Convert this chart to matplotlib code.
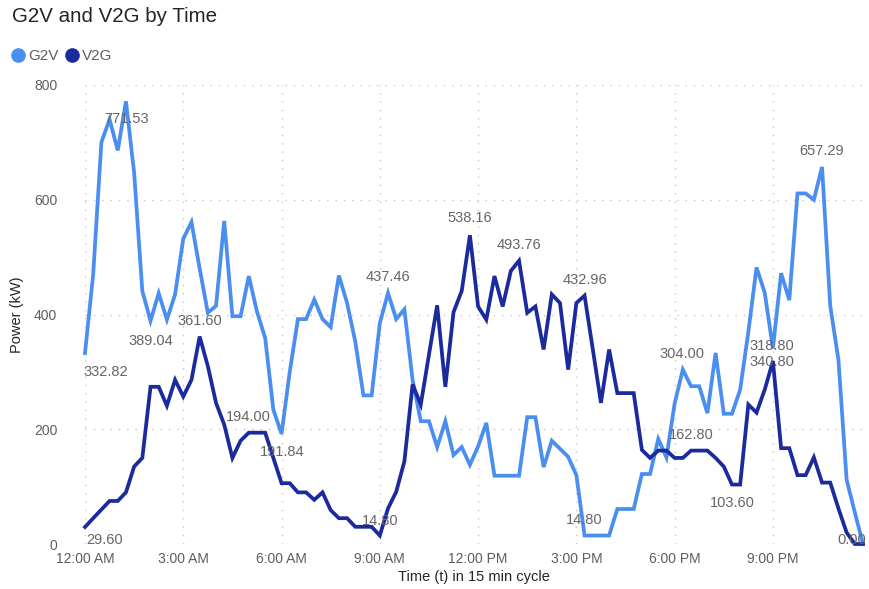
import numpy as np
import matplotlib
matplotlib.use("Agg")
import matplotlib.pyplot as plt
from matplotlib.lines import Line2D

plt.rcParams['font.family'] = ['Liberation Sans', 'DejaVu Sans']

# 96 readings, one every 15 minutes starting at midnight
g2v = [332.82, 470, 700, 740, 686, 771.53, 647, 441, 389.04, 437,
       391, 435, 532, 561, 480, 403, 415, 563, 397, 397,
       467, 405, 359, 234, 191.84, 300, 392, 392, 426, 392,
       378, 468, 420, 353, 259, 259, 385, 437.46, 392, 409,
       286, 214, 214, 169, 214, 155, 169, 138, 170, 211,
       119, 119, 119, 119, 221, 221, 134, 180, 166, 152,
       120, 14.80, 14.80, 14.80, 14.80, 61, 61, 61, 122, 122,
       183, 151, 245, 304.00, 275, 275, 228, 333, 227, 227,
       269, 370, 482, 438, 340.80, 472, 425, 611, 611, 600,
       657.29, 415, 321, 112, 55, 0.00]
v2g = [29.60, 45, 60, 75, 75, 90, 135, 150, 274, 274,
       241, 286, 257, 286, 361.60, 310, 246, 208, 150, 180,
       194.00, 194, 194, 150, 106, 106, 90, 90, 77, 90,
       59, 45, 45, 30, 30, 30, 14.80, 62, 91, 144,
       278, 243, 330, 416, 274, 404, 441, 538.16, 414, 391,
       467, 414, 476, 493.76, 403, 414, 339, 435, 420, 304,
       420, 432.96, 340, 246, 339, 263, 263, 263, 164, 150,
       162.80, 162.80, 150, 150, 162.80, 162.80, 162.80, 150, 135, 103.60,
       103.60, 243, 229, 269, 318.80, 167, 167, 120, 120, 151,
       107, 107, 62, 20, 0, 0.00]
hours = np.arange(len(g2v)) * 0.25

tick_hours = [0, 3, 6, 9, 12, 15, 18, 21]
tick_labels = ['12:00 AM', '3:00 AM', '6:00 AM', '9:00 AM',
               '12:00 PM', '3:00 PM', '6:00 PM', '9:00 PM']

# which points carry a data label, with the label offset in pixels
g2v_labels = [(0, 21, -19), (5, 1, -18), (8, 0, -20), (24, 1, -18),
              (37, 0, 16), (61, 0, 16), (73, -1, 16), (84, -1, -14),
              (90, 0, 16), (95, -11, 4)]
v2g_labels = [(0, 20, -13), (14, 0, 16), (20, 0, 16), (36, 0, 15),
              (47, 0, 17), (53, 0, 16), (61, 0, 16), (74, 0, 16),
              (79, 0, -18), (84, -1, 15)]

c_g2v = '#4A8EF0'
c_v2g = '#1B2A9C'
grey = '#605E5C'

fig = plt.figure(figsize=(8.69, 5.89), dpi=100)
ax = fig.add_axes([85 / 869, 1 - 544 / 589, 778 / 869, 459 / 589])

ax.plot(hours, g2v, color=c_g2v, lw=2.7, clip_on=False, zorder=3,
        solid_joinstyle='miter')
ax.plot(hours, v2g, color=c_v2g, lw=2.7, clip_on=False, zorder=3,
        solid_joinstyle='miter')

for series, labels in ((g2v, g2v_labels), (v2g, v2g_labels)):
    for i, dx, dy in labels:
        ax.annotate(f'{series[i]:.2f}', (hours[i], series[i]),
                    xytext=(dx, dy), textcoords='offset pixels',
                    ha='center', va='center', fontsize=10.5,
                    color='#666666', zorder=4, annotation_clip=False)

ax.set_xlim(0, hours[-1])
ax.set_ylim(0, 800)
ax.set_xticks(tick_hours)
ax.set_xticklabels(tick_labels)
ax.set_yticks([0, 200, 400, 600, 800])
ax.tick_params(axis='both', length=0, labelsize=10, labelcolor=grey)
ax.tick_params(axis='x', pad=6)
ax.tick_params(axis='y', pad=20)
ax.grid(True, color='#C8C6C4', linestyle=(0, (1, 5)), linewidth=1)
for s in ax.spines.values():
    s.set_visible(False)

fig.text(12 / 869, 1 - 17 / 589, 'G2V and V2G by Time', fontsize=14.8,
         color='#252423', va='center', ha='left')
fig.text(17 / 869, 1 - 315 / 589, 'Power (kW)', rotation=90, fontsize=10.5,
         color='#252423', va='center', ha='center')
fig.text(474 / 869, 1 - 577 / 589, 'Time (t) in 15 min cycle', fontsize=10.5,
         color='#252423', va='center', ha='center')

handles = [Line2D([], [], marker='o', color=c_g2v, linestyle='none', markersize=9.5),
           Line2D([], [], marker='o', color=c_v2g, linestyle='none', markersize=9.5)]
leg = fig.legend(handles, ['G2V', 'V2G'], loc='center left',
                 bbox_to_anchor=(3 / 869, 1 - 56 / 589), ncol=2, frameon=False,
                 borderpad=0, handlelength=1.0, handletextpad=0.15,
                 columnspacing=0.35, fontsize=11)
for t in leg.get_texts():
    t.set_color(grey)

fig.savefig('out.png', dpi=100)
